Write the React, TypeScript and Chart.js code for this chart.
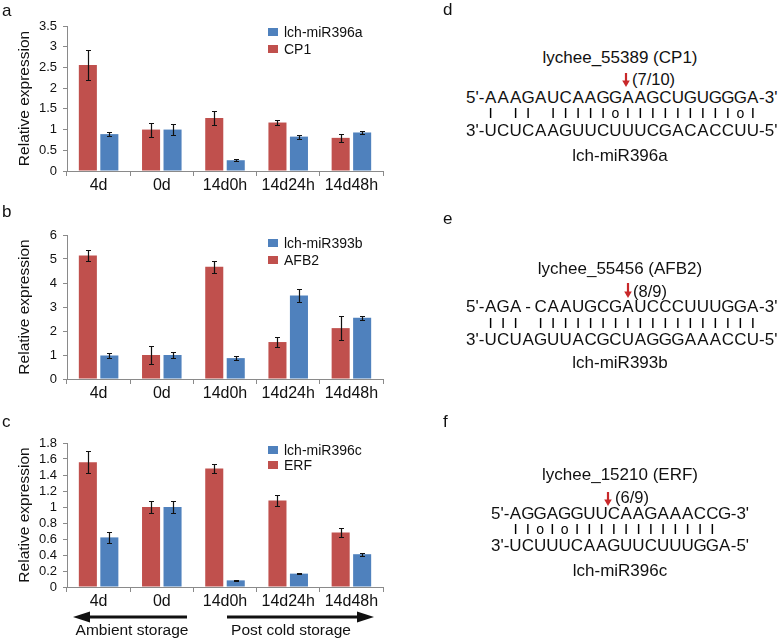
import React, { useEffect, useRef } from "react";
import { Chart, registerables } from "chart.js";

Chart.register(...registerables);

const FONT = "'Liberation Sans', Arial, Helvetica, sans-serif";
const RED = "#C0504D";
const BLUE = "#4F81BD";
const AXIS = "#8a8a8a";
const ARROW_RED = "#c8282a";

// ---------- data ----------
const CATEGORIES = ["4d", "0d", "14d0h", "14d24h", "14d48h"];
const Y_TITLE = "Relative expression";

const A_TARGET_LABEL = "CP1";
const A_MIR_LABEL = "lch-miR396a";
const A_TARGET = [2.56, 1.0, 1.28, 1.17, 0.8];
const A_TARGET_ERR = [0.36, 0.17, 0.18, 0.05, 0.09];
const A_MIR = [0.89, 1.0, 0.26, 0.83, 0.93];
const A_MIR_ERR = [0.04, 0.14, 0.02, 0.05, 0.025];
const A_TICKS = [0, 0.5, 1, 1.5, 2, 2.5, 3, 3.5];

const B_TARGET_LABEL = "AFB2";
const B_MIR_LABEL = "lch-miR393b";
const B_TARGET = [5.15, 1.0, 4.68, 1.54, 2.12];
const B_TARGET_ERR = [0.24, 0.39, 0.25, 0.19, 0.5];
const B_MIR = [0.98, 1.0, 0.87, 3.48, 2.55];
const B_MIR_ERR = [0.1, 0.14, 0.08, 0.28, 0.08];
const B_TICKS = [0, 1, 2, 3, 4, 5, 6];

const C_TARGET_LABEL = "ERF";
const C_MIR_LABEL = "lch-miR396c";
const C_TARGET = [1.56, 1.0, 1.48, 1.08, 0.68];
const C_TARGET_ERR = [0.14, 0.08, 0.06, 0.07, 0.06];
const C_MIR = [0.62, 1.0, 0.083, 0.167, 0.41];
const C_MIR_ERR = [0.065, 0.075, 0.01, 0.01, 0.02];
const C_TICKS = [0, 0.2, 0.4, 0.6, 0.8, 1, 1.2, 1.4, 1.6, 1.8];

const AMBIENT_LABEL = "Ambient storage";
const POST_COLD_LABEL = "Post cold storage";

const D_TITLE = "lychee_55389 (CP1)";
const D_SITE = "(7/10)";
const D_TARGET_SEQ = "AAAGAUCAAGGAAGCUGUGGGA";
const D_PAIRS = "| || |||||o|||||||||o|";
const D_MIR_SEQ = "UCUCAAGUUCUUUCGACACCUU";

const E_TITLE = "lychee_55456 (AFB2)";
const E_SITE = "(8/9)";
const E_TARGET_SEQ = "AGA-CAAUGCGAUCCCUUUGGA";
const E_PAIRS = "||| ||||||||||||||||||";
const E_MIR_SEQ = "UCUAGUUACGCUAGGGAAACCU";

const F_TITLE = "lychee_15210 (ERF)";
const F_SITE = "(6/9)";
const F_TARGET_SEQ = "AGGAGGUUCAAGAAACCG";
const F_PAIRS = "||o|o|||||||||||| ";
const F_MIR_SEQ = "UCUUUCAAGUUCUUUGGA";

// ---------- error bar plugin ----------
const errorBarPlugin = {
  id: "errorBars",
  afterDatasetsDraw(chart: any) {
    const { ctx } = chart;
    const yScale = chart.scales.y;
    chart.data.datasets.forEach((ds: any, i: number) => {
      const meta = chart.getDatasetMeta(i);
      meta.data.forEach((bar: any, j: number) => {
        const v = ds.data[j];
        const e = ds.errors[j];
        const top = Math.round(yScale.getPixelForValue(v + e)) + 0.5;
        const bot = Math.round(yScale.getPixelForValue(v - e)) + 0.5;
        const x = Math.round(bar.x) + 0.5;
        ctx.save();
        ctx.strokeStyle = "#111";
        ctx.lineWidth = 1.2;
        ctx.beginPath();
        ctx.moveTo(x, top);
        ctx.lineTo(x, bot);
        ctx.moveTo(x - 2.5, top);
        ctx.lineTo(x + 2.5, top);
        ctx.moveTo(x - 2.5, bot);
        ctx.lineTo(x + 2.5, bot);
        ctx.stroke();
        ctx.restore();
      });
    });
  },
};

type PanelProps = {
  top: number;
  height: number;
  chartTop: number;
  chartBottom: number;
  ticks: number[];
  target: number[];
  targetErr: number[];
  mir: number[];
  mirErr: number[];
  targetLabel: string;
  mirLabel: string;
};

const CANVAS_W = 400;
const AXIS_LEFT = 67;
const AXIS_RIGHT = 383;

function BarPanel(p: PanelProps) {
  const ref = useRef<HTMLCanvasElement>(null);
  useEffect(() => {
    const yMax = p.ticks[p.ticks.length - 1];
    const chart = new Chart(ref.current as HTMLCanvasElement, {
      type: "bar",
      data: {
        labels: CATEGORIES,
        datasets: [
          {
            label: p.targetLabel,
            data: p.target,
            errors: p.targetErr,
            backgroundColor: RED,
            borderWidth: 0,
            categoryPercentage: 0.68,
            barPercentage: 0.84,
          } as any,
          {
            label: p.mirLabel,
            data: p.mir,
            errors: p.mirErr,
            backgroundColor: BLUE,
            borderWidth: 0,
            categoryPercentage: 0.68,
            barPercentage: 0.84,
          } as any,
        ],
      },
      options: {
        responsive: false,
        animation: false,
        events: [],
        layout: {
          padding: {
            top: p.chartTop - p.top,
            right: CANVAS_W - AXIS_RIGHT,
            left: 0,
            bottom: 0,
          },
        },
        plugins: {
          legend: { display: false },
          tooltip: { enabled: false },
        },
        scales: {
          x: {
            grid: {
              display: true,
              drawOnChartArea: false,
              drawTicks: true,
              tickLength: 5,
              color: AXIS,
              offset: true,
            },
            border: { color: AXIS, width: 1 },
            ticks: {
              font: { family: FONT, size: 16 },
              color: "#111",
              padding: 0,
              maxRotation: 0,
              autoSkip: false,
            },
            afterFit: (s: any) => {
              s.height = p.top + p.height - p.chartBottom;
            },
          },
          y: {
            min: 0,
            max: yMax,
            afterBuildTicks: (s: any) => {
              s.ticks = p.ticks.map((v) => ({ value: v }));
            },
            grid: {
              display: true,
              drawOnChartArea: false,
              drawTicks: true,
              tickLength: 4,
              color: AXIS,
            },
            border: { color: AXIS, width: 1 },
            ticks: {
              font: { family: FONT, size: 13 },
              color: "#111",
              padding: 6,
              autoSkip: false,
              callback: (v: any) => String(v),
            },
            title: {
              display: true,
              text: Y_TITLE,
              font: { family: FONT, size: 15.5 },
              color: "#111",
              padding: { top: 15, bottom: 0 },
            },
            afterFit: (s: any) => {
              s.width = AXIS_LEFT;
            },
          },
        },
      } as any,
      plugins: [errorBarPlugin],
    });
    return () => chart.destroy();
  }, []);
  return (
    <canvas
      ref={ref}
      width={CANVAS_W}
      height={p.height}
      style={{ position: "absolute", left: 0, top: p.top, width: CANVAS_W, height: p.height }}
    />
  );
}

function Txt(props: { x: number; y: number; size: number; children: any; center?: boolean; color?: string }) {
  return (
    <div
      style={{
        position: "absolute",
        left: props.x,
        top: props.y,
        transform: props.center ? "translate(-50%, -50%)" : "translateY(-50%)",
        fontSize: props.size,
        lineHeight: 1,
        whiteSpace: "pre",
        color: props.color || "#111",
      }}
    >
      {props.children}
    </div>
  );
}

function Legend(props: { x: number; y1: number; y2: number; mirLabel: string; targetLabel: string }) {
  const sq = (y: number, c: string) => (
    <div style={{ position: "absolute", left: props.x, top: y - 4, width: 10, height: 8, background: c }} />
  );
  return (
    <>
      {sq(props.y1, BLUE)}
      <Txt x={props.x + 16} y={props.y1} size={14}>{props.mirLabel}</Txt>
      {sq(props.y2, RED)}
      <Txt x={props.x + 16} y={props.y2} size={14}>{props.targetLabel}</Txt>
    </>
  );
}

function SeqRow(props: { y: number; start: number; step: number; seq: string; pre: string; post: string; size: number }) {
  const cells = props.seq.split("").map((ch, i) => (
    <div
      key={i}
      style={{
        position: "absolute",
        left: props.start + i * props.step,
        top: props.y,
        transform: "translate(-50%, -50%)",
        fontSize: props.size,
        lineHeight: 1,
      }}
    >
      {ch}
    </div>
  ));
  const leftEdge = props.start - props.step / 2;
  const rightEdge = props.start + (props.seq.length - 1) * props.step + props.step / 2;
  return (
    <>
      <div
        style={{
          position: "absolute",
          right: 778 - leftEdge,
          top: props.y,
          transform: "translateY(-50%)",
          fontSize: props.size,
          lineHeight: 1,
          whiteSpace: "pre",
        }}
      >
        {props.pre}
      </div>
      {cells}
      <div
        style={{
          position: "absolute",
          left: rightEdge,
          top: props.y,
          transform: "translateY(-50%)",
          fontSize: props.size,
          lineHeight: 1,
          whiteSpace: "pre",
        }}
      >
        {props.post}
      </div>
    </>
  );
}

function PairRow(props: { y: number; start: number; step: number; pairs: string }) {
  return (
    <div
      style={{
        position: "absolute",
        left: 0,
        top: 0,
        width: 778,
        height: 638,
        willChange: "transform",
        opacity: 0.999,
        pointerEvents: "none",
      }}
    >
      {props.pairs.split("").map((ch, i) =>
        ch === " " ? null : (
          <div
            key={i}
            style={{
              position: "absolute",
              left: props.start + i * props.step,
              top: props.y,
              transform: "translate(-50%, -50%)",
              fontSize: ch === "o" ? 14 : 11.5,
              fontWeight: ch === "o" ? "normal" : "bold",
              lineHeight: 1,
              color: "#000",
            }}
          >
            {ch}
          </div>
        )
      )}
    </div>
  );
}

function RedArrow(props: { x: number; y1: number; y2: number }) {
  const h = props.y2 - props.y1;
  return (
    <svg
      style={{ position: "absolute", left: props.x - 5, top: props.y1 }}
      width={10}
      height={h}
    >
      <line x1={5} y1={0} x2={5} y2={h - 5} stroke={ARROW_RED} strokeWidth={2.2} />
      <polygon points={`1.2,${h - 6.5} 8.8,${h - 6.5} 5,${h}`} fill={ARROW_RED} />
    </svg>
  );
}

function AlignPanel(props: {
  letter: string;
  letterY: number;
  title: string;
  titleY: number;
  site: string;
  arrowX: number;
  arrowY1: number;
  arrowY2: number;
  siteX: number;
  siteY: number;
  rowY: number;
  rowGap: number;
  start: number;
  step: number;
  target: string;
  pairs: string;
  mir: string;
  mirLabel: string;
  mirY: number;
}) {
  return (
    <>
      <Txt x={443} y={props.letterY} size={17}>{props.letter}</Txt>
      <Txt x={620} y={props.titleY} size={17} center>{props.title}</Txt>
      <RedArrow x={props.arrowX} y1={props.arrowY1} y2={props.arrowY2} />
      <Txt x={props.siteX} y={props.siteY} size={16.5}>{props.site}</Txt>
      <SeqRow y={props.rowY} start={props.start} step={props.step} seq={props.target} pre="5'-" post="-3'" size={17} />
      <PairRow y={props.rowY + props.rowGap} start={props.start} step={props.step} pairs={props.pairs} />
      <SeqRow y={props.rowY + 2 * props.rowGap} start={props.start} step={props.step} seq={props.mir} pre="3'-" post="-5'" size={17} />
      <Txt x={620} y={props.mirY} size={17} center>{props.mirLabel}</Txt>
    </>
  );
}

export default function App() {
  return (
    <div
      style={{
        position: "absolute",
        left: 0,
        top: 0,
        width: 778,
        height: 638,
        overflow: "hidden",
        background: "#fff",
        fontFamily: FONT,
        color: "#111",
      }}
    >
      <BarPanel
        top={0}
        height={205}
        chartTop={26}
        chartBottom={171}
        ticks={A_TICKS}
        target={A_TARGET}
        targetErr={A_TARGET_ERR}
        mir={A_MIR}
        mirErr={A_MIR_ERR}
        targetLabel={A_TARGET_LABEL}
        mirLabel={A_MIR_LABEL}
      />
      <BarPanel
        top={195}
        height={215}
        chartTop={235}
        chartBottom={379}
        ticks={B_TICKS}
        target={B_TARGET}
        targetErr={B_TARGET_ERR}
        mir={B_MIR}
        mirErr={B_MIR_ERR}
        targetLabel={B_TARGET_LABEL}
        mirLabel={B_MIR_LABEL}
      />
      <BarPanel
        top={405}
        height={205}
        chartTop={443}
        chartBottom={587}
        ticks={C_TICKS}
        target={C_TARGET}
        targetErr={C_TARGET_ERR}
        mir={C_MIR}
        mirErr={C_MIR_ERR}
        targetLabel={C_TARGET_LABEL}
        mirLabel={C_MIR_LABEL}
      />

      <Txt x={2} y={10} size={17}>a</Txt>
      <Txt x={2} y={211} size={17}>b</Txt>
      <Txt x={2} y={421} size={17}>c</Txt>

      <Legend x={268} y1={32} y2={49} mirLabel={A_MIR_LABEL} targetLabel={A_TARGET_LABEL} />
      <Legend x={268} y1={242.5} y2={260} mirLabel={B_MIR_LABEL} targetLabel={B_TARGET_LABEL} />
      <Legend x={268} y1={449.5} y2={464.5} mirLabel={C_MIR_LABEL} targetLabel={C_TARGET_LABEL} />

      <svg style={{ position: "absolute", left: 0, top: 605 }} width={400} height={24}>
        <line x1={88} y1={12} x2={187} y2={12} stroke="#111" strokeWidth={3} />
        <polygon points="73,12 90,6.5 90,17.5" fill="#111" />
        <line x1={227} y1={12} x2={358} y2={12} stroke="#111" strokeWidth={3} />
        <polygon points="374,12 357,6.5 357,17.5" fill="#111" />
      </svg>
      <Txt x={132} y={630} size={15.5} center>{AMBIENT_LABEL}</Txt>
      <Txt x={291} y={630} size={15.5} center>{POST_COLD_LABEL}</Txt>

      <AlignPanel
        letter="d"
        letterY={9}
        title={D_TITLE}
        titleY={57}
        site={D_SITE}
        arrowX={626}
        arrowY1={73}
        arrowY2={87}
        siteX={632}
        siteY={79}
        rowY={96.5}
        rowGap={16.8}
        start={490.7}
        step={12.48}
        target={D_TARGET_SEQ}
        pairs={D_PAIRS}
        mir={D_MIR_SEQ}
        mirLabel={A_MIR_LABEL}
        mirY={155}
      />
      <AlignPanel
        letter="e"
        letterY={218}
        title={E_TITLE}
        titleY={268}
        site={E_SITE}
        arrowX={628}
        arrowY1={283}
        arrowY2={298}
        siteX={633}
        siteY={290.5}
        rowY={306}
        rowGap={16.5}
        start={490.7}
        step={12.48}
        target={E_TARGET_SEQ}
        pairs={E_PAIRS}
        mir={E_MIR_SEQ}
        mirLabel={B_MIR_LABEL}
        mirY={362}
      />
      <AlignPanel
        letter="f"
        letterY={421}
        title={F_TITLE}
        titleY={474}
        site={F_SITE}
        arrowX={608}
        arrowY1={492}
        arrowY2={506}
        siteX={615}
        siteY={496.5}
        rowY={513}
        rowGap={16}
        start={515.5}
        step={12.3}
        target={F_TARGET_SEQ}
        pairs={F_PAIRS}
        mir={F_MIR_SEQ}
        mirLabel={C_MIR_LABEL}
        mirY={570}
      />
    </div>
  );
}
